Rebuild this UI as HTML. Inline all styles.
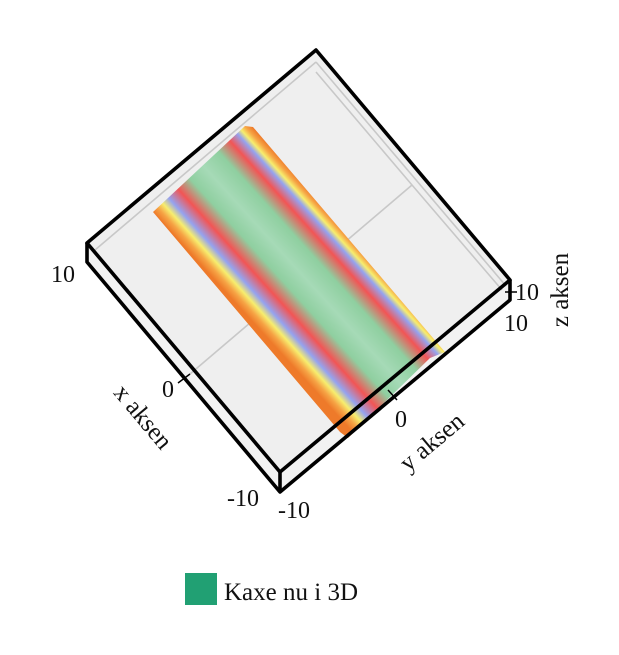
<!DOCTYPE html>
<html><head><meta charset="utf-8"><style>
html,body{margin:0;padding:0;background:#fff;width:619px;height:655px;overflow:hidden}
text{font-family:"Liberation Serif",serif;fill:#111}
</style></head><body>
<svg id="chart" width="619" height="655" viewBox="0 0 619 655">
<defs>
<linearGradient id="band" gradientUnits="userSpaceOnUse" x1="153" y1="212" x2="250" y2="124"></linearGradient>
</defs>
<g id="box">
<polygon points="87,243 280,472 280,492 87,262" fill="#f2f2f2"/>
<polygon points="280,472 510,280 510,300 280,492" fill="#f2f2f2"/>
<polygon points="316,50 510,280 280,472 87,243" fill="#efefef"/>
<g stroke="#c8c8c8" stroke-width="1.6" fill="none">
<polyline points="316,72 412,185 502,290"/>
<line x1="412" y1="185" x2="190" y2="374"/>
<line x1="316" y1="62" x2="95" y2="250"/>
<line x1="316" y1="62" x2="506" y2="286"/>
</g>
</g>
<polygon id="surface" points="153,212 245,126 253,127 445,352 430,358 348,438 340,432" fill="url(#band)"/>
<g stroke="#000" stroke-width="3.6" fill="none" stroke-linejoin="round">
<polygon points="316,50 510,280 280,472 87,243"/>
<polyline points="87,243 87,262 280,492 510,300 510,280"/>
<line x1="280" y1="472" x2="280" y2="492"/>
</g>
<g stroke="#000" stroke-width="1.5">
<line x1="178" y1="383" x2="190" y2="374"/>
<line x1="388" y1="390" x2="397" y2="400"/>
<line x1="505" y1="292" x2="517" y2="292"/>
</g>
<g id="labels"></g>
<text x="137" y="422" font-size="25" text-anchor="middle" transform="rotate(50 137 422)">x aksen</text>
<text x="437" y="448" font-size="25" text-anchor="middle" transform="rotate(-40 437 448)">y aksen</text>
<text x="568" y="290" font-size="25" text-anchor="middle" transform="rotate(-90 568 290)">z aksen</text>
<rect x="185" y="573" width="32" height="32" fill="#21a073"/>
<text x="224" y="600" font-size="25">Kaxe nu i 3D</text>
</svg>
<script>
const xTicks = ["10", "0", "-10"];
const yTicks = ["-10", "0"];
const zTicks = ["10", "10"];
const profile = [0.0, 0.1, 0.2, 0.3, 0.45, 0.7, 0.85, 0.7, 0.45, 0.3, 0.2, 0.1, 0.0];
const profileColors = ["#ee7a2a","#f6a445","#f7ee6e","#95a3f0","#f25555","#8fcfa0","#a6dab7","#8fcfa0","#f25555","#95a3f0","#f7ee6e","#f6a445","#ee7a2a"];
const stopOffsets = [0,0.05,0.1,0.16,0.26,0.38,0.52,0.68,0.8,0.88,0.92,0.96,1];
const NS = "http://www.w3.org/2000/svg";
const grad = document.getElementById("band");
profile.forEach((v, i) => {
  const s = document.createElementNS(NS, "stop");
  s.setAttribute("offset", stopOffsets[i]);
  s.setAttribute("stop-color", profileColors[i]);
  grad.appendChild(s);
});
const lab = document.getElementById("labels");
function addText(t, x, y, name) {
  const el = document.createElementNS(NS, "text");
  el.setAttribute("x", x); el.setAttribute("y", y);
  el.setAttribute("font-size", "24");
  el.setAttribute("text-anchor", "middle");
  
  
  el.textContent = t;
  lab.appendChild(el);
}
const xPos = [[63,282],[168,397],[243,506]];
xTicks.forEach((t, i) => addText(t, xPos[i][0], xPos[i][1], "x-tick-label"));
const yPos = [[294,518],[401,427]];
yTicks.forEach((t, i) => addText(t, yPos[i][0], yPos[i][1], "y-tick-label"));
const zPos = [[527,300],[516,331]];
zTicks.forEach((t, i) => addText(t, zPos[i][0], zPos[i][1], "z-tick-label"));
</script>
</body></html>
